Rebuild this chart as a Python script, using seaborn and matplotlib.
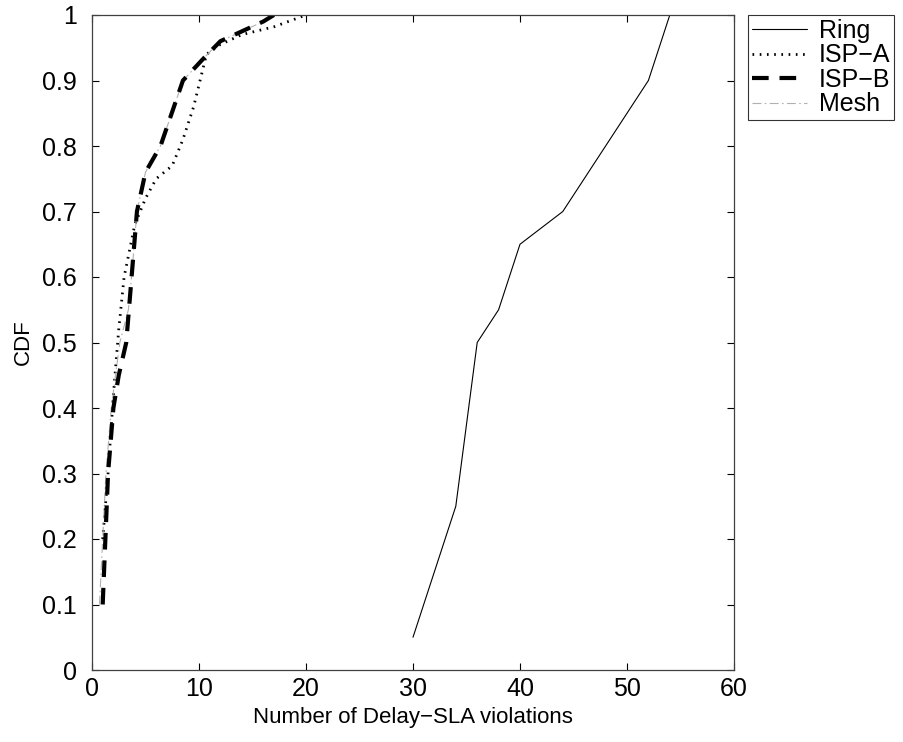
import matplotlib
matplotlib.use("Agg")
import matplotlib.pyplot as plt
import seaborn as sns
import pandas as pd

ring_x = [30, 34, 36, 38, 40, 44, 52, 54]
ring_y = [0.05, 0.25, 0.50, 0.55, 0.65, 0.70, 0.90, 1.00]

ispa_x = [1, 1.5, 2, 2.5, 3, 4, 5, 6, 7.5, 8.5, 9.5, 10.7, 12, 14, 17, 20]
ispa_y = [0.2, 0.3, 0.42, 0.52, 0.6, 0.68, 0.72, 0.75, 0.77, 0.81, 0.86, 0.94, 0.955, 0.97, 0.982, 1.0]

ispb_x = [1, 1.5, 2, 2.5, 3.2, 3.7, 4.2, 5, 6.4, 8.5, 10.5, 12, 14, 16, 17]
ispb_y = [0.1, 0.3, 0.4, 0.45, 0.5, 0.6, 0.7, 0.76, 0.8, 0.9, 0.935, 0.96, 0.975, 0.99, 1.0]

mesh_x = [0.7, 1.0, 1.3, 1.8, 2.6, 3.4, 3.7, 4.2, 5, 6.4, 8.5, 10.5, 12, 14, 16, 17]
mesh_y = [0.1, 0.2, 0.3, 0.4, 0.5, 0.55, 0.6, 0.7, 0.76, 0.8, 0.9, 0.935, 0.96, 0.975, 0.99, 1.0]

series_names = ["Ring", "ISP\u2212A", "ISP\u2212B", "Mesh"]
x_ticks = [0, 10, 20, 30, 40, 50, 60]
y_ticks = [0, 0.1, 0.2, 0.3, 0.4, 0.5, 0.6, 0.7, 0.8, 0.9, 1.0]
y_tick_labels = ["0", "0.1", "0.2", "0.3", "0.4", "0.5", "0.6", "0.7", "0.8", "0.9", "1"]

sns.set_theme(style="ticks")
plt.rcParams["font.family"] = ["Liberation Sans", "DejaVu Sans"]
plt.rcParams["text.color"] = "black"
plt.rcParams["axes.labelcolor"] = "black"

fig = plt.figure(figsize=(9.04, 7.42), dpi=100)
ax = fig.add_axes([92 / 904, 1 - 670 / 742, (734 - 92) / 904, (670 - 15) / 742])

styles = {
    "Ring": dict(color="black", lw=0.8, linestyle="-"),
    "ISP\u2212A": dict(color="black", lw=2.0, linestyle=(0, (0.6, 2.0))),
    "Mesh": dict(color="#b0b0b0", lw=0.8, linestyle=(0, (8, 3, 1.5, 3))),
    "ISP\u2212B": dict(color="black", lw=3.0, linestyle=(0, (4.0, 2.6))),
}
series = {
    "Ring": (ring_x, ring_y),
    "ISP\u2212A": (ispa_x, ispa_y),
    "Mesh": (mesh_x, mesh_y),
    "ISP\u2212B": (ispb_x, ispb_y),
}
for name in ["Ring", "ISP\u2212A", "Mesh", "ISP\u2212B"]:
    xs, ys = series[name]
    df = pd.DataFrame({"x": xs, "y": ys})
    sns.lineplot(data=df, x="x", y="y", ax=ax, sort=False, estimator=None,
                 label=name, **styles[name])

ax.set_xlim(0, 60)
ax.set_ylim(0, 1)
ax.set_xticks(x_ticks)
ax.set_xticklabels([str(t) for t in x_ticks])
ax.set_yticks(y_ticks)
ax.set_yticklabels(y_tick_labels)
ax.tick_params(direction="in", length=5, width=0.8, top=True, right=True,
               labelsize=18, colors="black")
ax.tick_params(axis="y", pad=11)
ax.tick_params(axis="x", pad=5)
for s in ax.spines.values():
    s.set_linewidth(0.9)
    s.set_color("#404040")
ax.set_xlabel("Number of Delay\u2212SLA violations", fontsize=16, labelpad=4,
              color="black")
ax.set_ylabel("CDF", fontsize=16, labelpad=6, color="black")

h, l = ax.get_legend_handles_labels()
lab2h = dict(zip(l, h))
leg = ax.legend([lab2h[n] for n in series_names], series_names,
                loc="upper left", bbox_to_anchor=(748 / 904, 1 - 15 / 742),
                bbox_transform=fig.transFigure, fontsize=18, frameon=True,
                fancybox=False, edgecolor="black", handlelength=2.2,
                handletextpad=0.5, borderpad=0.15, labelspacing=0.02,
                borderaxespad=0)
leg.get_frame().set_linewidth(0.8)

fig.savefig("out.png", dpi=100)
